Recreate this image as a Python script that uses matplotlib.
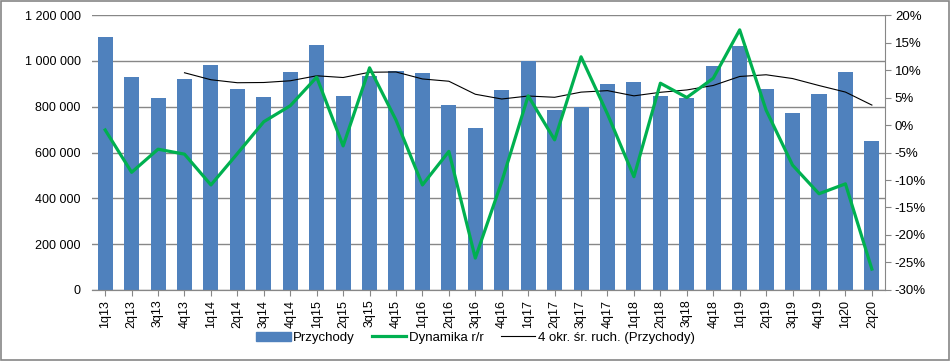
import matplotlib
matplotlib.use("Agg")
import matplotlib.pyplot as plt
import numpy as np
import pandas as pd
from matplotlib.patches import Rectangle
from matplotlib.ticker import FuncFormatter

plt.rcParams["font.family"] = ["Liberation Sans", "DejaVu Sans"]

quarters = ["1q13", "2q13", "3q13", "4q13", "1q14", "2q14", "3q14", "4q14",
            "1q15", "2q15", "3q15", "4q15", "1q16", "2q16", "3q16", "4q16",
            "1q17", "2q17", "3q17", "4q17", "1q18", "2q18", "3q18", "4q18",
            "1q19", "2q19", "3q19", "4q19", "1q20", "2q20"]

przychody = [1104000, 929000, 838000, 921000, 982000, 877000, 842000, 951000,
             1069000, 847000, 934000, 956000, 947000, 807000, 707000, 873000,
             999000, 785000, 797000, 899000, 908000, 847000, 838000, 977000,
             1065000, 877000, 772000, 855000, 951000, 650000]

# dynamika r/r w %
dynamika = [-0.9, -8.6, -4.4, -5.3, -10.9, -5.2, 0.6, 3.5,
            8.7, -3.8, 10.4, 0.9, -10.9, -4.8, -24.2, -10.3,
            5.3, -2.7, 12.4, 2.0, -9.4, 7.6, 5.0, 8.5,
            17.3, 2.7, -7.3, -12.5, -10.7, -26.2]

# 4-okresowa srednia ruchoma (linia trendu)
sr_ruch = pd.Series(przychody).rolling(4).mean()

blue = "#4F81BD"
green = "#00B050"
grid = "#878787"

fig = plt.figure(figsize=(9.51, 3.61), dpi=100)
ax = fig.add_axes([0.0967, 0.1967, 0.834, 0.7617])
ax2 = ax.twinx()

x = np.arange(len(quarters))
ax.bar(x, przychody, width=0.57, color=blue, zorder=2)
ax.plot(x, sr_ruch, color="black", lw=0.8, zorder=3)
ax2.plot(x, dynamika, color=green, lw=2.3, zorder=4)

ax.set_xlim(-0.5, len(quarters) - 0.5)
ax.set_ylim(0, 1200000)
ax.set_yticks(np.arange(0, 1200001, 200000))
ax.yaxis.set_major_formatter(FuncFormatter(lambda v, p: f"{int(v):,}".replace(",", " ")))
ax.grid(axis="y", color=grid, lw=1, zorder=0)
ax.set_axisbelow(True)
ax.set_xticks(x)
ax.set_xticklabels(quarters, rotation=90, fontsize=9)
ax.tick_params(axis="y", length=0, labelsize=9, pad=8)
ax.tick_params(axis="x", length=4, color=grid, pad=3)

ax2.set_ylim(-30, 20)
ax2.set_yticks(np.arange(-30, 21, 5))
ax2.yaxis.set_major_formatter(FuncFormatter(lambda v, p: f"{int(v)}%"))
ax2.tick_params(axis="y", length=4, color=grid, labelsize=9.5, pad=3)

for a in (ax, ax2):
    a.spines["top"].set_visible(False)
    a.spines["left"].set_visible(False)
    a.spines["right"].set_visible(False)
    a.spines["bottom"].set_color(grid)
ax2.spines["right"].set_visible(True)
ax2.spines["right"].set_color(grid)

h1 = Rectangle((0, 0), 1, 1, color=blue)
h2, = ax.plot([], [], color=green, lw=2.3)
h3, = ax.plot([], [], color="black", lw=0.8)
fig.legend([h1, h2, h3], ["Przychody", "Dynamika r/r", "4 okr. śr. ruch. (Przychody)"],
           loc="center", bbox_to_anchor=(0.5, 0.064), ncol=3, frameon=False,
           fontsize=9.5, handlelength=2.6, handletextpad=0.2, columnspacing=1.3)

fig.patches.append(Rectangle((0.001, 0.002), 0.997, 0.995, transform=fig.transFigure,
                             fill=False, edgecolor="#868686", lw=1.2))

fig.savefig("out.png", dpi=100)
